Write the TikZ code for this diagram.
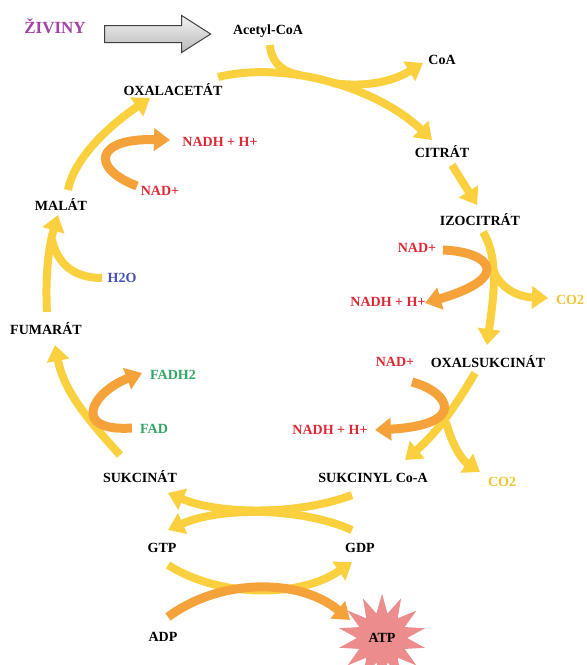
\documentclass[tikz,border=0pt]{standalone}
\usepackage{fontspec}
\setmainfont{Liberation Serif}
\usetikzlibrary{arrows.meta,shapes.geometric,shapes.arrows}
\definecolor{ylw}{RGB}{250,208,62}
\definecolor{org}{RGB}{245,162,58}
\definecolor{rd}{RGB}{222,40,52}
\definecolor{gld}{RGB}{242,196,50}
\definecolor{grn}{RGB}{48,165,100}
\definecolor{blu}{RGB}{70,80,190}
\definecolor{vio}{RGB}{160,68,165}
\definecolor{pnk}{RGB}{236,140,140}
\tikzstyle{txt}=[font=\fontsize{14}{16}\selectfont\bfseries, inner sep=1pt]
\tikzstyle{yar}=[draw=ylw, line width=8pt, -{Triangle[width=22pt,length=16pt]}]
\tikzstyle{yln}=[draw=ylw, line width=8pt]
\tikzstyle{oar}=[draw=org, line width=9pt, -{Triangle[width=22pt,length=16pt]}]
\tikzstyle{garrow}=[single arrow, draw=black!75, line width=1pt, top color=gray!10, bottom color=gray!55,
  inner xsep=0pt, inner ysep=8pt, single arrow head extend=10pt, single arrow tip angle=65, minimum height=106pt]

\begin{document}
\begin{tikzpicture}[x=1pt,y=-1pt]
  \useasboundingbox (0,0) rectangle (587,665);
  % labels
  \node[txt, vio, font=\fontsize{17}{19}\selectfont\bfseries] (ziv) at (55,26) {ŽIVINY};
  \node[garrow] (feed) at (151,34) {};
  \node[txt] (acet) at (268,31) {Acetyl-CoA};
  \node[txt] (coa) at (442,60) {CoA};
  \node[txt] (oxal) at (173,90) {OXALACETÁT};
  \node[txt] (citr) at (442,152) {CITRÁT};
  \node[txt] (izo) at (480,220) {IZOCITRÁT};
  \node[txt, rd] (nadA) at (417,248) {NAD+};
  \node[txt, rd] (nadhA) at (388,302) {NADH + H+};
  \node[txt, gld] (co2A) at (570,300) {CO2};
  \node[txt] (oxsuk) at (488,362) {OXALSUKCINÁT};
  \node[txt, rd] (nadB) at (395,362) {NAD+};
  \node[txt, rd] (nadhB) at (330,430) {NADH + H+};
  \node[txt, gld] (co2B) at (502,482) {CO2};
  \node[txt] (sukcoa) at (373,478) {SUKCINYL Co-A};
  \node[txt] (sukc) at (140,477) {SUKCINÁT};
  \node[txt] (gtp) at (162,548) {GTP};
  \node[txt] (gdp) at (360,548) {GDP};
  \node[txt] (adp) at (163,637) {ADP};
  \node[star, star points=14, star point ratio=1.75, minimum size=88pt, inner sep=0pt, fill=pnk,
    font=\fontsize{14}{16}\selectfont\bfseries] (atp) at (382,638) {ATP};
  \node[txt] (fum) at (46,329) {FUMARÁT};
  \node[txt, blu] (h2o) at (122,278) {H2O};
  \node[txt, grn] (fadh) at (173,375) {FADH2};
  \node[txt, grn] (fad) at (154,429) {FAD};
  \node[txt] (mal) at (61,204) {MALÁT};
  \node[txt, rd] (nadhC) at (220,142) {NADH + H+};
  \node[txt, rd] (nadC) at (160,191) {NAD+};

  % ends of the connectors
  \coordinate (o1) at (218,77);  \coordinate (c1) at (432,140);
  \coordinate (a1) at (270,45);  \coordinate (a2) at (300,75);
  \coordinate (k1) at (332,83);  \coordinate (k2) at (423,63);
  \coordinate (c2) at (452,165); \coordinate (i1) at (477,205);
  \coordinate (i2) at (483,232); \coordinate (x1) at (487,345);
  \coordinate (d1) at (494,272); \coordinate (d2) at (548,298);
  \coordinate (n1) at (443,250); \coordinate (n2) at (425,303);
  \coordinate (x2) at (475,373); \coordinate (s1) at (405,460);
  \coordinate (d3) at (446,422); \coordinate (d4) at (480,472);
  \coordinate (n3) at (412,382); \coordinate (n4) at (375,430);
  \coordinate (s2) at (352,495); \coordinate (u1) at (168,493);
  \coordinate (g1) at (352,530); \coordinate (g2) at (168,530);
  \coordinate (g3) at (168,565); \coordinate (g4) at (352,562);
  \coordinate (p1) at (168,617); \coordinate (p2) at (350,620);
  \coordinate (u2) at (120,455); \coordinate (f1) at (55,345);
  \coordinate (e1) at (132,428); \coordinate (e2) at (142,373);
  \coordinate (f2) at (47,312);  \coordinate (m1) at (58,215);
  \coordinate (w1) at (102,278); \coordinate (w2) at (52,240);
  \coordinate (m2) at (68,190);  \coordinate (o2) at (150,98);
  \coordinate (n5) at (137,186); \coordinate (n6) at (170,140);

  % yellow
  \draw[yar] (o1) .. controls (290,60) and (380,90) .. (c1);
  \draw[yln] (a1) .. controls (271,62) and (282,72) .. (a2);
  \draw[yar] (k1) .. controls (370,88) and (395,80) .. (k2);
  \draw[yar] (c2) -- (i1);
  \draw[yar] (i2) .. controls (500,260) and (493,300) .. (x1);
  \draw[yar] (d1) .. controls (502,290) and (520,297) .. (d2);
  \draw[yar] (x2) .. controls (458,402) and (438,432) .. (s1);
  \draw[yar] (d3) .. controls (452,445) and (462,460) .. (d4);
  \draw[yar] (s2) .. controls (300,515) and (220,515) .. (u1);
  \draw[yar] (g1) .. controls (300,507) and (220,507) .. (g2);
  \draw[yar] (g3) .. controls (220,598) and (300,598) .. (g4);
  \draw[yar] (u2) .. controls (90,422) and (64,392) .. (f1);
  \draw[yar] (f2) .. controls (45,275) and (49,245) .. (m1);
  \draw[yln] (w1) .. controls (75,278) and (58,265) .. (w2);
  \draw[yar] (m2) .. controls (74,158) and (110,125) .. (o2);
  % orange
  \draw[oar] (n1) .. controls (492,252) and (512,278) .. (n2);
  \draw[oar] (n3) .. controls (450,392) and (468,425) .. (n4);
  \draw[oar] (p1) .. controls (220,578) and (300,578) .. (p2);
  \draw[oar] (e1) .. controls (70,432) and (92,392) .. (e2);
  \draw[oar] (n5) .. controls (90,168) and (95,138) .. (n6);
\end{tikzpicture}
\end{document}
